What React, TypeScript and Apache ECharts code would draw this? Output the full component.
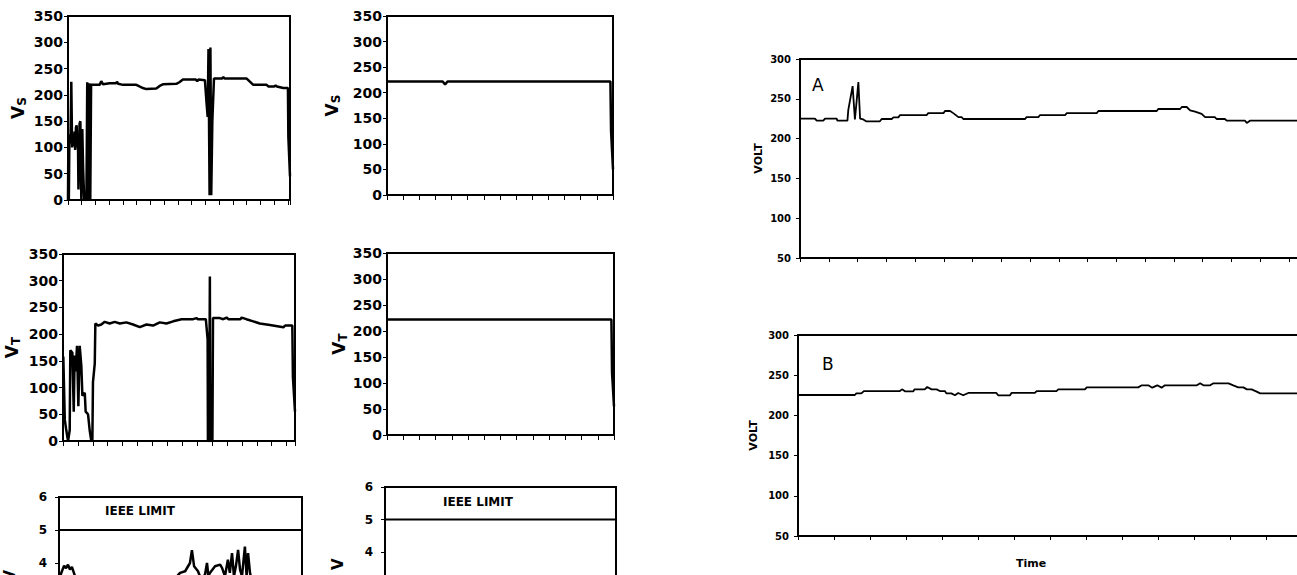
import React, { useEffect, useRef } from "react";
import * as echarts from "echarts";

const FONT = "DejaVu Sans, Verdana, sans-serif";

// ---- data (x in tick units, y in volts / %) ----
const vsLeft = [
  [0, 0], [0.03, 125], [0.06, 0], [0.1, 112], [0.18, 108], [0.24, 225], [0.3, 100], [0.36, 112],
  [0.42, 103], [0.48, 130], [0.52, 95], [0.58, 138], [0.63, 142], [0.67, 100], [0.72, 125], [0.76, 20],
  [0.84, 145], [0.9, 150], [0.97, 0], [1.04, 135], [1.1, 60], [1.18, 0], [1.34, 0], [1.4, 224],
  [1.48, 0], [1.56, 222], [1.62, 0], [1.68, 219], [2.3, 219], [2.42, 226], [2.55, 220], [3.03, 222],
  [3.5, 222], [3.56, 225], [3.65, 221], [4.0, 219], [4.97, 219], [5.2, 216], [5.45, 213], [5.7, 211],
  [6.42, 212], [6.67, 217], [6.9, 220], [7.88, 221], [8.1, 224], [8.36, 229], [9.3, 229], [9.4, 226],
  [9.5, 229], [9.96, 228], [10.08, 184], [10.16, 158], [10.22, 287], [10.3, 9], [10.36, 290], [10.42, 9],
  [10.5, 150], [10.62, 231], [11.2, 231], [11.3, 234], [11.4, 231], [13.0, 231], [13.48, 219], [14.45, 219],
  [14.57, 216], [15.0, 216], [15.1, 218], [15.2, 216], [15.66, 213], [16.0, 213], [16.03, 120], [16.15, 45],
];
const vsRight = [[0, 222], [3.45, 222], [3.6, 216], [3.75, 222], [13.84, 222], [13.88, 125], [14, 50]];
const vtLeft = [
  [0.02, 158], [0.12, 40], [0.22, 20], [0.34, 0], [0.45, 20], [0.49, 170], [0.63, 165], [0.72, 55],
  [0.78, 160], [0.85, 130], [0.94, 178], [1.03, 65], [1.12, 178], [1.23, 140], [1.3, 85], [1.46, 90],
  [1.52, 55], [1.68, 50], [1.79, 20], [1.9, 0], [1.97, 0], [2.01, 110], [2.13, 145], [2.17, 220],
  [2.35, 216], [2.57, 218], [2.8, 223], [3.13, 220], [3.47, 223], [3.81, 220], [4.25, 222], [4.7, 218],
  [5.15, 213], [5.6, 218], [6.04, 216], [6.49, 222], [6.94, 220], [7.39, 224], [7.95, 228], [8.73, 228],
  [8.95, 230], [9.05, 228], [9.58, 228], [9.7, 190], [9.72, 0], [9.8, 0], [9.85, 308], [9.88, 0],
  [10.02, 0], [10.06, 230], [10.52, 230], [10.75, 228], [10.97, 231], [11.1, 228], [11.9, 228], [11.98, 231],
  [12.3, 228], [12.76, 224], [13.2, 220], [13.88, 217], [14.78, 213], [14.9, 216], [15.38, 216], [15.42, 120],
  [15.56, 55],
];
const vtRight = [[0, 222], [13.84, 222], [13.88, 120], [14, 55]];
const thdLeft = [
  [0, 3.5], [1.2, 3.75], [2.1, 3.92], [2.9, 3.84], [3.7, 3.95], [4.5, 3.8], [5.3, 3.88], [6.6, 3.6],
  [8, 3.3], [20, 3.2], [35, 3.2], [47, 3.3], [48.6, 3.6], [49.8, 3.7], [51.9, 3.75], [53.9, 4.0],
  [54.7, 4.39], [55.6, 3.9], [57.2, 3.75], [58.5, 3.5], [60.1, 3.65], [60.9, 4.0], [61.5, 3.6], [62.1, 3.7],
  [64.2, 3.9], [66.3, 3.95], [67.1, 3.85], [68.3, 3.6], [69.5, 4.1], [70.3, 3.7], [71.2, 4.3], [72, 3.6],
  [72.8, 3.9], [73.7, 4.4], [74.5, 3.8], [75.3, 3.6], [76.5, 4.5], [77.2, 3.6], [77.8, 4.3], [78.6, 3.7],
  [80, 3.3], [100, 3.2],
];
const ieeeLimitLeft = [[0, 5], [100, 5]];
const ieeeLimitRight = [[0, 5], [100, 5]];
const voltA = [
  [0, 225], [0.52, 225], [0.58, 222.5], [0.81, 222.5], [0.87, 225], [1.28, 225], [1.3, 222.5], [1.65, 222.5],
  [1.68, 236], [1.83, 266], [1.91, 224], [1.97, 247], [2.03, 271], [2.09, 225], [2.2, 224], [2.3, 221.7],
  [2.78, 221.7], [2.84, 224.6], [3.19, 224.6], [3.25, 226.7], [3.42, 226.7], [3.48, 229.6], [4.41, 229.6], [4.46, 232],
  [4.99, 232], [5.04, 234.7], [5.22, 234.7], [5.33, 232], [5.51, 227], [5.62, 227], [5.68, 224.6], [7.83, 224.6],
  [7.88, 227], [8.29, 227], [8.35, 229.6], [9.22, 229.6], [9.28, 232], [10.32, 232], [10.38, 234.7], [12.41, 234.7],
  [12.46, 237.2], [13.22, 237.2], [13.28, 239.7], [13.45, 239.7], [13.57, 235.5], [13.74, 234], [13.97, 231], [14.09, 227],
  [14.43, 227], [14.49, 224.6], [14.78, 224.6], [14.84, 222.5], [15.48, 222.5], [15.54, 219.6], [15.65, 222.5], [18, 222.5],
];
const voltB = [
  [0, 225.4], [1.58, 225.4], [1.62, 227.4], [1.76, 227.4], [1.83, 230.3], [2.83, 230.3], [2.89, 232.4], [2.97, 229.9],
  [3.2, 229.9], [3.24, 232.4], [3.52, 232.4], [3.59, 235.3], [3.71, 232.4], [3.85, 232.4], [3.94, 230.3], [4.08, 230.3],
  [4.12, 227.4], [4.26, 227.4], [4.36, 225], [4.45, 227.9], [4.59, 225], [4.73, 227.9], [5.51, 227.9], [5.56, 225],
  [5.89, 225], [5.93, 227.9], [6.58, 227.9], [6.63, 230.3], [7.18, 230.3], [7.23, 232.4], [7.97, 232.4], [8.02, 234.9],
  [9.45, 234.9], [9.55, 237.4], [9.73, 237.4], [9.84, 234.5], [9.98, 237.4], [10.1, 234.5], [10.19, 237.4], [11.08, 237.4],
  [11.17, 239.9], [11.26, 237.4], [11.45, 237.4], [11.54, 239.9], [11.96, 239.9], [12.09, 237.4], [12.23, 234.9], [12.37, 234.9],
  [12.47, 232.4], [12.6, 232.4], [12.74, 229.5], [12.84, 227.4], [15, 227.4],
];
const ticksVS = [0, 350, 50];
const ticksTHD = [0, 6, 1];
const ticksVolt = [50, 300, 50];

const grids = [
  { left: 68, top: 16, width: 222, height: 184 },
  { left: 387, top: 16, width: 226, height: 179 },
  { left: 63, top: 254, width: 232, height: 187 },
  { left: 387, top: 253, width: 227, height: 182 },
  { left: 59, top: 497, width: 243, height: 198 },
  { left: 385, top: 487, width: 231, height: 195 },
  { left: 800, top: 59, width: 517.5, height: 199 },
  { left: 798, top: 335, width: 540, height: 201 },
].map((g) => ({ ...g, show: true, borderColor: "#000", borderWidth: 2, containLabel: false, outerBoundsMode: "none" }));

const subRich = {
  v: { fontSize: 17, fontWeight: "bold", fontFamily: FONT, color: "#000", lineHeight: 20 },
  s: { fontSize: 12, fontWeight: "bold", fontFamily: FONT, color: "#000", lineHeight: 13, verticalAlign: "bottom" },
};

function xAx(gridIndex: number, max: number, interval: number, tickLen: number, showTick = true) {
  return {
    type: "value", gridIndex, min: 0, max, interval,
    axisLine: { show: true, onZero: false, lineStyle: { color: "#000", width: 2 } },
    axisTick: { show: showTick, length: tickLen, lineStyle: { color: "#000", width: 1 } },
    axisLabel: { show: false }, splitLine: { show: false },
  };
}

function yAx(gridIndex: number, t: number[], fontSize: number, margin: number, name: string, nameGap: number, nameStyle: any) {
  return {
    type: "value", gridIndex, min: t[0], max: t[1], interval: t[2],
    name, nameLocation: "middle", nameGap, nameTextStyle: nameStyle,
    axisLine: { show: true, onZero: false, lineStyle: { color: "#000", width: 2 } },
    axisTick: { show: true, length: 4, lineStyle: { color: "#000", width: 1 } },
    axisLabel: { fontSize, fontWeight: "bold", fontFamily: FONT, color: "#000", margin },
    splitLine: { show: false },
  };
}

function ser(i: number, data: number[][], width: number) {
  return {
    type: "line", xAxisIndex: i, yAxisIndex: i, data, showSymbol: false, symbol: "none",
    lineStyle: { color: "#000", width }, silent: true,
  };
}

const subName = { rich: subRich };
const thdName = { fontSize: 15, fontWeight: "bold", fontFamily: FONT, color: "#000" };
const voltName = { fontSize: 11, fontWeight: "bold", fontFamily: FONT, color: "#000" };

const option = {
  animation: false,
  backgroundColor: "#fff",
  grid: grids,
  xAxis: [
    xAx(0, 16.15, 1, 5), xAx(1, 14, 1, 5), xAx(2, 15.56, 1, 5), xAx(3, 14, 1, 5),
    xAx(4, 100, 10, 5, false), xAx(5, 100, 10, 5, false), xAx(6, 18, 1, 4), xAx(7, 15, 1, 4),
  ],
  yAxis: [
    yAx(0, ticksVS, 14, 5, "{v|V}{s|S}", 40, subName),
    yAx(1, ticksVS, 14, 5, "{v|V}{s|S}", 45, subName),
    yAx(2, ticksVS, 14, 5, "{v|V}{s|T}", 41, subName),
    yAx(3, ticksVS, 14, 5, "{v|V}{s|T}", 30, subName),
    yAx(4, ticksTHD, 12, 12, "THD V", 42, thdName),
    yAx(5, ticksTHD, 12, 12, "THD V", 40, thdName),
    yAx(6, ticksVolt, 10, 9, "VOLT", 36, voltName),
    yAx(7, ticksVolt, 10, 9, "VOLT", 39, voltName),
  ],
  series: [
    ser(0, vsLeft, 2.5), ser(1, vsRight, 2.5), ser(2, vtLeft, 2.5), ser(3, vtRight, 2.5),
    ser(4, thdLeft, 2.5), ser(4, ieeeLimitLeft, 2), ser(5, ieeeLimitRight, 2),
    ser(6, voltA, 1.8), ser(7, voltB, 1.8),
  ],
  graphic: [
    { type: "text", left: 105, top: 505, style: { text: "IEEE LIMIT", font: `bold 12px ${FONT}`, fill: "#000" } },
    { type: "text", left: 443, top: 496, style: { text: "IEEE LIMIT", font: `bold 12px ${FONT}`, fill: "#000" } },
    { type: "text", left: 812, top: 76, style: { text: "A", font: `17px ${FONT}`, fill: "#000" } },
    { type: "text", left: 822, top: 355, style: { text: "B", font: `17px ${FONT}`, fill: "#000" } },
    { type: "text", left: 1016, top: 558, style: { text: "Time", font: `bold 11px ${FONT}`, fill: "#000" } },
  ],
};

export default function App() {
  const ref = useRef<HTMLDivElement>(null);
  useEffect(() => {
    const chart = echarts.init(ref.current!, null, { renderer: "svg" });
    chart.setOption(option as any);
    return () => chart.dispose();
  }, []);
  return (
    <div
      ref={ref}
      style={{ position: "fixed", left: 0, top: 0, width: 1297, height: 575, background: "#fff" }}
    />
  );
}
